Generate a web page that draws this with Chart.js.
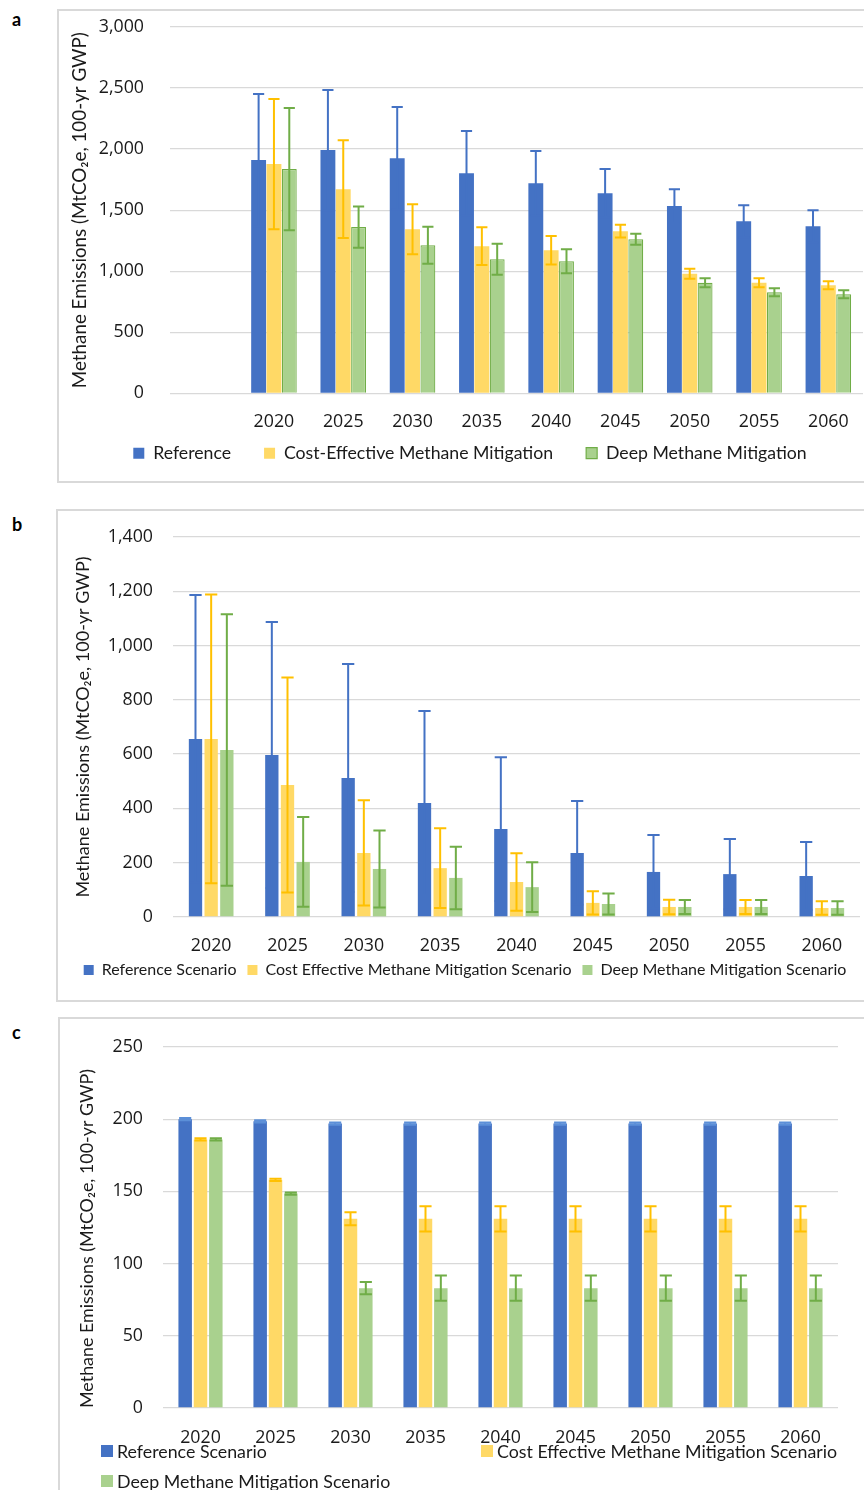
<!DOCTYPE html>
<html>
<head>
<meta charset="utf-8">
<script src="https://cdn.jsdelivr.net/npm/chart.js@4.4.1/dist/chart.umd.min.js"></script>
<style>
  html, body { margin: 0; padding: 0; background: #fff; width: 864px; height: 1490px; overflow: hidden; position: relative; }
  .panel { position: absolute; border: 2px solid #d9d9d9; box-sizing: border-box; }
  .tag { position: absolute; left: 12px; font: bold 18px/1.2 Lato, sans-serif; color: #000; }
  canvas { position: absolute; }
  #leyendaC { position: absolute; left: 101px; top: 1436px; display: grid; grid-template-columns: 380px auto; grid-auto-rows: 30px;
              font: 17.8px Lato, sans-serif; color: #1a1a1a; white-space: nowrap; }
  #leyendaC div { display: flex; align-items: center; }
  #leyendaC i { display: inline-block; width: 12px; height: 12px; margin-right: 4px; box-sizing: border-box; }
</style>
</head>
<body>
<div class="panel" style="left:57px; top:9px; width:900px; height:474px;"></div>
<div class="panel" style="left:56px; top:509px; width:900px; height:493px;"></div>
<div class="panel" style="left:58px; top:1017px; width:900px; height:500px;"></div>
<div class="tag" style="top:9px;">a</div>
<div class="tag" style="top:514px;">b</div>
<div class="tag" style="top:1022px;">c</div>

<canvas id="graficaA" width="807" height="472" style="left:57px; top:10px;"></canvas>
<canvas id="graficaB" width="808" height="491" style="left:56px; top:510px;"></canvas>
<canvas id="graficaC" width="806" height="472" style="left:58px; top:1018px;"></canvas>
<div id="leyendaC"></div>

<script>
const anios = ['2020', '2025', '2030', '2035', '2040', '2045', '2050', '2055', '2060'];

// Panel a
const aReferencia      = [1910, 1992, 1926, 1803, 1721, 1639, 1533, 1410, 1369];
const aReferenciaErr   = [541, 492, 418, 345, 263, 197, 139, 131, 131];
const aCostoEfectivo   = [1877, 1672, 1344, 1205, 1172, 1328, 980, 906, 885];
const aCostoEfectivoErr= [533, 400, 205, 155, 117, 53, 41, 37, 33];
const aProfunda        = [1836, 1361, 1213, 1098, 1082, 1262, 906, 828, 811];
const aProfundaErr     = [500, 168, 152, 127, 98, 45, 37, 33, 33];

// Panel b
const bReferencia      = [656, 597, 512, 420, 324, 236, 166, 158, 151];
const bReferenciaErr   = [530, 490, 420, 339, 265, 191, 136, 129, 125];
const bCostoEfectivo   = [656, 486, 236, 180, 129, 52, 37, 37, 33];
const bCostoEfectivoErr= [532, 396, 194, 147, 106, 43, 27, 26, 25];
const bProfunda        = [615, 203, 177, 144, 110, 48, 37, 37, 33];
const bProfundaErr     = [500, 165, 142, 115, 92, 39, 26, 26, 25];

// Panel c
const cReferencia      = [200, 198.5, 197, 197, 197, 197, 197, 197, 197];
const cReferenciaErr   = [0.8, 0.8, 0.8, 0.8, 0.8, 0.8, 0.8, 0.8, 0.8];
const cCostoEfectivo   = [186, 158, 131, 131, 131, 131, 131, 131, 131];
const cCostoEfectivoErr= [0.8, 0.8, 4.5, 8.7, 8.7, 8.7, 8.7, 8.7, 8.7];
const cProfunda        = [186, 148.5, 83, 83, 83, 83, 83, 83, 83];
const cProfundaErr     = [0.8, 0.8, 4.2, 8.7, 8.7, 8.7, 8.7, 8.7, 8.7];

const etiquetasAB = ['Reference', 'Cost-Effective Methane Mitigation', 'Deep Methane Mitigation'];
const etiquetasEsc = ['Reference Scenario', 'Cost Effective Methane Mitigation Scenario', 'Deep Methane Mitigation Scenario'];
const tituloY = 'Methane Emissions (MtCO\u2082e, 100-yr GWP)';

const AZUL = '#4472C4', AMARILLO = '#FFD966', VERDE = '#A9D18E';
const AMARILLO_ERR = '#FFC000', VERDE_ERR = '#70AD47';
const FUENTE_TICKS = { family: '"Open Sans", sans-serif', size: 17.8 };

Chart.defaults.font.family = 'Lato, sans-serif';
Chart.defaults.color = '#1a1a1a';

// dibuja las barras de error con la escala y del grafico
const barrasError = {
    id: 'barrasError',
    afterDatasetsDraw(chart, args, opts) {
        const ctx = chart.ctx;
        const escalaY = chart.scales.y;
        chart.data.datasets.forEach((ds, i) => {
            if (!ds.errores) return;
            const meta = chart.getDatasetMeta(i);
            ctx.save();
            ctx.strokeStyle = ds.colorError;
            ctx.lineWidth = opts.grosor;
            meta.data.forEach((barra, j) => {
                const v = ds.data[j];
                const e = ds.errores[j];
                if (v == null || e == null) return;
                const yAlto = escalaY.getPixelForValue(v + e);
                const yBajo = escalaY.getPixelForValue(v - e);
                const medio = barra.width * opts.ancho / 2;
                ctx.beginPath();
                ctx.moveTo(barra.x, yBajo); ctx.lineTo(barra.x, yAlto);
                ctx.moveTo(barra.x - medio, yAlto); ctx.lineTo(barra.x + medio, yAlto);
                ctx.moveTo(barra.x - medio, yBajo); ctx.lineTo(barra.x + medio, yBajo);
                ctx.stroke();
            });
            ctx.restore();
        });
    }
};

function crearGrafica(id, p) {
    const ctx = document.getElementById(id).getContext('2d');
    const config = {
        type: 'bar',
        data: {
            labels: p.labels,
            datasets: [
                { label: p.nombres[0], data: p.series[0], errores: p.errores[0], colorError: p.colorRefErr || AZUL,
                  backgroundColor: AZUL, borderWidth: 0 },
                { label: p.nombres[1], data: p.series[1], errores: p.errores[1], colorError: AMARILLO_ERR,
                  backgroundColor: AMARILLO, borderWidth: 0 },
                { label: p.nombres[2], data: p.series[2], errores: p.errores[2], colorError: VERDE_ERR,
                  backgroundColor: VERDE, borderColor: VERDE_ERR, borderWidth: p.bordeVerde }
            ]
        },
        options: {
            responsive: false,
            animation: false,
            categoryPercentage: p.catPct,
            barPercentage: p.barPct,
            layout: { padding: p.padding },
            plugins: {
                legend: {
                    display: p.leyenda !== null,
                    position: 'bottom',
                    labels: p.leyenda ? {
                        font: { size: p.leyenda.size },
                        boxWidth: p.leyenda.box,
                        boxHeight: p.leyenda.box,
                        padding: p.leyenda.pad,
                        color: '#1a1a1a'
                    } : {}
                },
                tooltip: { enabled: false },
                barrasError: { ancho: p.capa, grosor: 2 }
            },
            scales: {
                x: {
                    grid: { display: false },
                    border: { display: false },
                    // mirror evita el recorte de etiquetas; el padding negativo las deja debajo del eje
                    ticks: { font: FUENTE_TICKS, padding: p.xPad, mirror: true, maxRotation: 0, autoSkip: false },
                    afterFit: s => { s.height = p.xAlto; s.paddingLeft = 0; s.paddingRight = 0; }
                },
                y: {
                    min: 0, max: p.max,
                    ticks: { stepSize: p.paso, font: FUENTE_TICKS, padding: p.yPad,
                             callback: v => v.toLocaleString('en-US') },
                    grid: { color: '#d9d9d9', lineWidth: 1.3, drawTicks: false },
                    border: { display: false },
                    title: { display: true, text: tituloY, font: { size: p.tituloSize },
                             padding: { top: p.tituloPad, bottom: 0 }, align: p.tituloAlign || 'center', color: '#1a1a1a' },
                    afterFit: s => { s.width = p.yAncho; s.paddingTop = 0; s.paddingBottom = 0; }
                }
            }
        },
        plugins: [barrasError]
    };
    return new Chart(ctx, config);
}

// el panel a tiene una categoria vacia al inicio
crearGrafica('graficaA', {
    labels: [''].concat(anios),
    nombres: etiquetasAB,
    series: [[null].concat(aReferencia), [null].concat(aCostoEfectivo), [null].concat(aProfunda)],
    errores: [[null].concat(aReferenciaErr), [null].concat(aCostoEfectivoErr), [null].concat(aProfundaErr)],
    bordeVerde: 1.2,
    catPct: 0.664, barPct: 0.97,
    padding: { left: 20, right: 1, top: 17, bottom: 10 },
    leyenda: { size: 17.7, box: 11, pad: 33 },
    capa: 0.75,
    xPad: -39.7, xAlto: 18, yPad: 26, yAncho: 93,
    max: 3000, paso: 500,
    tituloSize: 18.8, tituloPad: -8.3
});

crearGrafica('graficaB', {
    labels: anios,
    nombres: etiquetasEsc,
    series: [bReferencia, bCostoEfectivo, bProfunda],
    errores: [bReferenciaErr, bCostoEfectivoErr, bProfundaErr],
    bordeVerde: 0,
    catPct: 0.616, barPct: 0.85,
    padding: { left: 14, right: 4, top: 27, bottom: 13 },
    leyenda: { size: 16, box: 10, pad: 11 },
    capa: 0.92,
    xPad: -39.7, xAlto: 34, yPad: 20, yAncho: 103,
    max: 1400, paso: 200,
    tituloSize: 18, tituloPad: 2.8
});

const graficaC = crearGrafica('graficaC', {
    labels: anios,
    nombres: etiquetasEsc,
    series: [cReferencia, cCostoEfectivo, cProfunda],
    errores: [cReferenciaErr, cCostoEfectivoErr, cProfundaErr],
    colorRefErr: '#5B8FD8',
    bordeVerde: 0,
    catPct: 0.613, barPct: 0.88,
    padding: { left: 0, right: 26, top: 29, bottom: 52 },
    leyenda: null,
    capa: 0.9,
    xPad: -40.7, xAlto: 30, yPad: 20, yAncho: 105,
    max: 250, paso: 50,
    tituloSize: 17.9, tituloPad: 18.9, tituloAlign: 'start'
});

// leyenda del panel c en dos filas, como en el original
const leyendaC = document.getElementById('leyendaC');
graficaC.data.datasets.forEach(ds => {
    const item = document.createElement('div');
    const cuadro = document.createElement('i');
    cuadro.style.background = ds.backgroundColor;
    item.appendChild(cuadro);
    item.appendChild(document.createTextNode(ds.label));
    leyendaC.appendChild(item);
});
</script>
</body>
</html>
